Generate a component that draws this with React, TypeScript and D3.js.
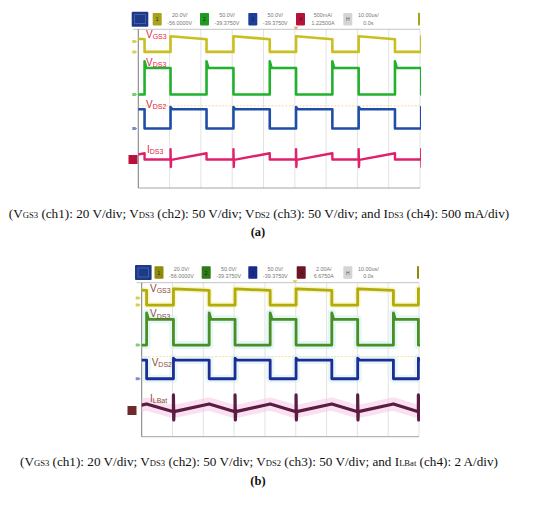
import React from 'react';
import * as d3 from 'd3';

const W = 550;
const H = 507;

// vertical grid: 9 visible time divisions (10 us/div)
const timeDivs = d3.range(0, 10);

// channel header readouts
const chanIds = ['1', '2', '3', '4', 'H'];
const scaleRowA = ['20.0V/', '50.0V/', '50.0V/', '500mA/', '10.00us/'];
const offsetRowA = ['-56.0000V', '-39.3750V', '-39.3750V', '1.22500A', '0.0s'];
const scaleRowB = ['20.0V/', '50.0V/', '50.0V/', '2.00A/', '10.00us/'];
const offsetRowB = ['-56.0000V', '-39.3750V', '-39.3750V', '6.6750A', '0.0s'];

// gate switching edges, in time divisions
const gateRiseA = [-0.97, 1.03, 3.04, 5.04, 7.04, 9.04];
const gateFallA = [0.2, 2.18, 4.2, 6.2, 8.2, 10.2];
const gateRiseB = [-0.97, 1.03, 3.03, 5.01, 7.01, 8.98];
const gateFallB = [0.16, 2.19, 4.17, 6.17, 8.17, 10.17];

// levels in screen divisions (0 = bottom, 8 = top)
const vgs3A = [7.65, 7.5, 6.86]; // on (start), on (end), off
const vds3A = [6.05, 6.39, 4.71]; // high, ringing peak, low
const vds2A = [3.97, 4.08, 3.0]; // high, ringing peak, low
const ids3A = [1.42, 1.75, 1.44, 1.96, 1.06]; // ramp start, ramp end, off, spike max, spike min
const vgs3B = [7.68, 7.6, 6.84];
const vds3B = [6.1, 6.43, 4.76];
const vds2B = [3.98, 4.08, 3.01];
const ilbatB = [1.3, 1.7, 2.17, 0.87]; // trough, peak, spike max, spike min

// trigger level line
const trigA = 4.14;
const trigB = 4.16;

const captionA: [string, boolean][] = [
  ['(V', false], ['GS3', true], [' (ch1): 20 V/div; V', false], ['DS3', true],
  [' (ch2): 50 V/div; V', false], ['DS2', true], [' (ch3): 50 V/div; and I', false],
  ['DS3', true], [' (ch4): 500 mA/div)', false],
];
const captionB: [string, boolean][] = [
  ['(V', false], ['GS3', true], [' (ch1): 20 V/div; V', false], ['DS3', true],
  [' (ch2): 50 V/div; V', false], ['DS2', true], [' (ch3): 50 V/div; and I', false],
  ['LBat', true], [' (ch4): 2 A/div)', false],
];

type Pt = [number, number];

const gateWave = (rise: number[], fall: number[], [hi0, hi1, lo]: number[]) => {
  const pts: Pt[] = [];
  rise.forEach((r, i) => {
    pts.push([r, lo], [r, hi0], [fall[i], hi1], [fall[i], lo]);
  });
  return pts;
};

// complementary drain voltage, rings when it turns off (gate falls)
const drainWave = (rise: number[], fall: number[], [hi, peak, lo]: number[]) => {
  const pts: Pt[] = [];
  rise.forEach((r, i) => {
    const f = fall[i];
    pts.push([r, hi], [r, lo], [f, lo], [f, peak], [f + 0.06, hi]);
  });
  return pts;
};

// in-phase drain voltage, rings at gate rise
const inPhaseWave = (rise: number[], fall: number[], [hi, peak, lo]: number[]) => {
  const pts: Pt[] = [];
  rise.forEach((r, i) => {
    const f = fall[i];
    pts.push([r, lo], [r, peak], [r + 0.06, hi], [f, hi], [f, lo]);
  });
  return pts;
};

const rampCurrent = (rise: number[], fall: number[], [start, end, off, sMax, sMin]: number[]) => {
  const pts: Pt[] = [];
  rise.forEach((r, i) => {
    const f = fall[i];
    pts.push([r, off], [r, sMax], [r + 0.01, sMin], [r + 0.02, start], [f, end], [f, off]);
  });
  return pts;
};

const triangleCurrent = (rise: number[], fall: number[], [trough, peak, sMax, sMin]: number[], spikes = true) => {
  const pts: Pt[] = [];
  rise.forEach((r, i) => {
    if (spikes) pts.push([r, trough], [r, sMax], [r + 0.01, sMin], [r + 0.02, trough]);
    else pts.push([r, trough]);
    pts.push([fall[i], peak]);
  });
  return pts;
};

type Trace = { pts: Pt[]; color: string; width: number; halo?: string; haloWidth?: number; haloPts?: Pt[] };
type Label = { x: number; y: number; main: string; sub: string };
type Marker = { y: number; color: string };

type PanelProps = {
  id: string;
  left: number; right: number; top: number; bottom: number;
  headerY: number; mainBoxX: number; boxX: number[];
  scaleRow: string[]; offsetRow: string[];
  boxColors: string[];
  traces: Trace[];
  labels: Label[];
  labelColor: string;
  markers: Marker[];
  chBox: { x: number; y: number; color: string };
  trig: number; trigColor: string;
  trigMarkX: number; trigMarkColor: string;
};

const ScopePanel = (p: PanelProps) => {
  const x = d3.scaleLinear().domain([0, 9]).range([p.left, p.right]);
  const y = d3.scaleLinear().domain([0, 8]).range([p.bottom, p.top]);
  const line = d3.line<Pt>().x(d => x(d[0])).y(d => y(d[1]));
  const hy = p.headerY;
  return (
    <g>
      <defs>
        <clipPath id={`clip-${p.id}`}>
          <rect x={p.left} y={p.top} width={p.right - p.left + 1} height={p.bottom - p.top} />
        </clipPath>
      </defs>
      {/* header */}
      <rect x={p.mainBoxX} y={hy} width={16.6} height={15} fill="#1d3a88" rx={1} />
      <rect x={p.mainBoxX + 3} y={hy + 3} width={10.6} height={9} fill="none" stroke="#5a78c0" strokeWidth={0.6} />
      {p.boxX.map((bx, i) => (
        <g key={i}>
          <rect x={bx} y={hy + 1.2} width={9} height={12.5} fill={p.boxColors[i]} rx={0.8} />
          <text x={bx + 4.5} y={hy + 9.6} fontSize={5} fill={i === 4 ? '#555' : '#222'}
            textAnchor="middle" fontFamily="Liberation Sans">{chanIds[i]}</text>
          <text x={bx + (i === 4 ? 25 : 27)} y={hy + 5.6} fontSize={5.4} fill="#777"
            textAnchor="middle" fontFamily="Liberation Sans">{p.scaleRow[i]}</text>
          <text x={bx + (i === 4 ? 25 : 27)} y={hy + 12.8} fontSize={5.4} fill="#777"
            textAnchor="middle" fontFamily="Liberation Sans">{p.offsetRow[i]}</text>
        </g>
      ))}
      <rect x={p.right - 2} y={hy + 1.2} width={2} height={12.5} fill={p.boxColors[0]} />
      {/* grid */}
      {timeDivs.map(d => (
        <line key={d} x1={x(d)} x2={x(d)} y1={p.top} y2={p.bottom} stroke="#dcdcdc" strokeWidth={0.8} />
      ))}
      <line x1={p.left - 5} x2={p.right} y1={p.top} y2={p.top} stroke="#bdbdbd" strokeWidth={0.9} />
      <line x1={p.left} x2={p.right} y1={p.bottom} y2={p.bottom} stroke="#9a9a9a" strokeWidth={0.9} />
      <line x1={p.left} x2={p.left} y1={p.top} y2={p.bottom} stroke="#777" strokeWidth={0.9} />
      <line x1={p.left} x2={p.right} y1={y(p.trig)} y2={y(p.trig)} stroke={p.trigColor}
        strokeWidth={0.8} strokeDasharray="2,1.5" />
      <path d={`M${p.trigMarkX - 2.5},${p.top - 2.5} h5 l-2.5,3 z`} fill={p.trigMarkColor} />
      {/* traces */}
      <g clipPath={`url(#clip-${p.id})`}>
        {p.traces.filter(t => t.halo).map((t, i) => (
          <path key={`h${i}`} d={line(t.haloPts ?? t.pts) ?? ''} fill="none" stroke={t.halo}
            strokeWidth={t.haloWidth} strokeOpacity={0.55} strokeLinejoin="round" />
        ))}
        {p.traces.map((t, i) => (
          <path key={i} d={line(t.pts) ?? ''} fill="none" stroke={t.color}
            strokeWidth={t.width} strokeLinejoin="round" />
        ))}
      </g>
      {/* channel ground markers */}
      {p.markers.map((m, i) => (
        <path key={i} d={`M${p.left - 6},${y(m.y) - 1.5} h3 l2,1.5 l-2,1.5 h-3 z`} fill={m.color} />
      ))}
      <rect x={p.chBox.x} y={p.chBox.y} width={9} height={9} fill={p.chBox.color} />
      {/* trace labels */}
      {p.labels.map((l, i) => (
        <text key={i} x={l.x} y={l.y} fontSize={10} fill={p.labelColor} fontFamily="Liberation Sans">
          {l.main}
          <tspan fontSize={7} dy={1.2}>{l.sub}</tspan>
        </text>
      ))}
    </g>
  );
};

const Caption = ({ parts, y }: { parts: [string, boolean][]; y: number }) => (
  <text x={W / 2 - 16} y={y} textAnchor="middle" fontSize={13.2} fontFamily="Liberation Serif" fill="#111">
    {parts.map(([s, sub], i) => (
      <tspan key={i} fontSize={sub ? 8.6 : 13.2}>{s}</tspan>
    ))}
  </text>
);

export default function App() {
  return (
    <svg width={W} height={H} style={{ position: 'absolute', left: 0, top: 0, background: '#fff' }}>
      <ScopePanel
        id="a"
        left={138.3} right={420} top={29.3} bottom={188}
        headerY={11.7} mainBoxX={131.7}
        boxX={[152.7, 200, 248.3, 296, 343.3]}
        scaleRow={scaleRowA} offsetRow={offsetRowA}
        boxColors={['#a9a21a', '#1f9a22', '#1c3f9a', '#b8123a', '#d4d4d4']}
        traces={[
          { pts: gateWave(gateRiseA, gateFallA, vgs3A), color: '#c9bf1f', width: 2.6 },
          { pts: drainWave(gateRiseA, gateFallA, vds3A), color: '#22b12c', width: 2.6 },
          { pts: inPhaseWave(gateRiseA, gateFallA, vds2A), color: '#1f4ea8', width: 2.6 },
          { pts: rampCurrent(gateRiseA, gateFallA, ids3A), color: '#df216d', width: 2.4 },
        ]}
        labels={[
          { x: 146, y: 37.7, main: 'V', sub: 'GS3' },
          { x: 146, y: 66, main: 'V', sub: 'DS3' },
          { x: 146, y: 107.7, main: 'V', sub: 'DS2' },
          { x: 147, y: 153, main: 'I', sub: 'DS3' },
        ]}
        labelColor="#e3263e"
        markers={[
          { y: 7.38, color: '#d6cf5a' }, { y: 6.86, color: '#d6cf5a' },
          { y: 4.71, color: '#6fcf6f' }, { y: 3.0, color: '#6f8fd0' },
        ]}
        chBox={{ x: 128.5, y: 155, color: '#b8123a' }}
        trig={trigA} trigColor="#f6c9a0"
        trigMarkX={296} trigMarkColor="#f0a060"
      />
      <ScopePanel
        id="b"
        left={141.7} right={419} top={282.7} bottom={436.7}
        headerY={265} mainBoxX={135}
        boxX={[154.5, 201.7, 248.3, 296.7, 343.3]}
        scaleRow={scaleRowB} offsetRow={offsetRowB}
        boxColors={['#8f8a0a', '#2c7a18', '#1a2a8c', '#6e1522', '#d4d4d4']}
        traces={[
          { pts: gateWave(gateRiseB, gateFallB, vgs3B), color: '#b3aa0c', width: 2.8, halo: '#f3f0a6', haloWidth: 6 },
          { pts: drainWave(gateRiseB, gateFallB, vds3B), color: '#4b8e24', width: 2.8, halo: '#cdf1f1', haloWidth: 8 },
          { pts: inPhaseWave(gateRiseB, gateFallB, vds2B), color: '#1e2c96', width: 2.8, halo: '#d4f1f4', haloWidth: 8 },
          {
            pts: triangleCurrent(gateRiseB, gateFallB, ilbatB), color: '#5a1c40', width: 3.2,
            halo: '#f7c6e6', haloWidth: 13, haloPts: triangleCurrent(gateRiseB, gateFallB, ilbatB, false),
          },
        ]}
        labels={[
          { x: 150, y: 291.7, main: 'V', sub: 'GS3' },
          { x: 150, y: 317.3, main: 'V', sub: 'DS3' },
          { x: 151.7, y: 366, main: 'V', sub: 'DS2' },
          { x: 150, y: 401.7, main: 'I', sub: 'LBat' },
        ]}
        labelColor="#8a4b3b"
        markers={[
          { y: 7.2, color: '#d8d24a' }, { y: 6.84, color: '#d8d24a' },
          { y: 4.76, color: '#7fcf7f' }, { y: 3.01, color: '#7f8fe0' },
        ]}
        chBox={{ x: 127.5, y: 406, color: '#6e2a2a' }}
        trig={trigB} trigColor="#e6e07a"
        trigMarkX={295} trigMarkColor="#d8cf40"
      />
      <Caption parts={captionA} y={218} />
      <text x={258} y={236} textAnchor="middle" fontSize={12.5} fontWeight="bold"
        fontFamily="Liberation Serif" fill="#111">(a)</text>
      <Caption parts={captionB} y={466} />
      <text x={258} y={485} textAnchor="middle" fontSize={12.5} fontWeight="bold"
        fontFamily="Liberation Serif" fill="#111">(b)</text>
    </svg>
  );
}
